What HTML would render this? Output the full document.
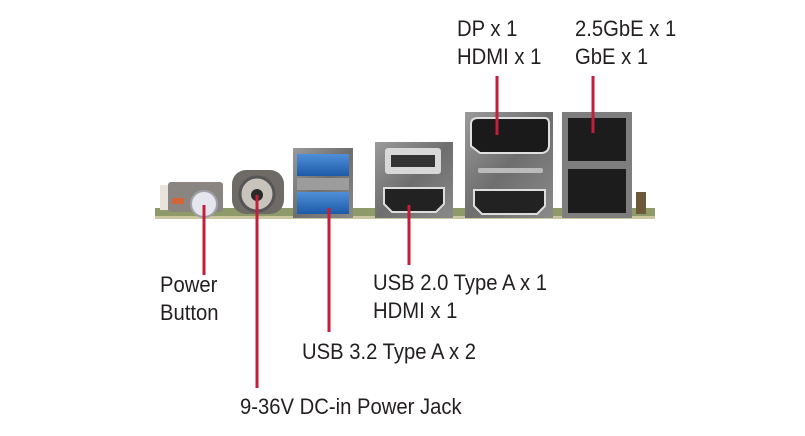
<!DOCTYPE html>
<html><head><style>
html,body{margin:0;padding:0;background:#fff;}
body{width:805px;height:436px;position:relative;overflow:hidden;}
.t{position:absolute;font-family:"Liberation Sans",sans-serif;font-size:22px;color:#231f20;white-space:nowrap;transform:scaleX(0.92);transform-origin:0 0;line-height:28px;}
</style></head><body>
<svg width="805" height="436" style="position:absolute;left:0;top:0">
<defs>
<linearGradient id="metal" x1="0" y1="0" x2="1" y2="1"><stop offset="0" stop-color="#9a9a9a"/><stop offset="0.5" stop-color="#6e6e6e"/><stop offset="1" stop-color="#8a8a8a"/></linearGradient>
<linearGradient id="blue" x1="0" y1="0" x2="0" y2="1"><stop offset="0" stop-color="#4f8fd8"/><stop offset="1" stop-color="#1d5aa8"/></linearGradient>
</defs>
<rect x="155" y="208" width="500" height="10" fill="#8f9a6a"/>
<rect x="155" y="216" width="500" height="3" fill="#c9c6a0"/>
<rect x="160" y="185" width="20" height="25" fill="#e8e4dc"/>
<rect x="168" y="182" width="55" height="30" fill="#8a8580" rx="3"/>
<rect x="172" y="198" width="12" height="6" fill="#d2663a"/>
<circle cx="204" cy="204" r="13" fill="#e6e6ee" stroke="#a0a0a8" stroke-width="2"/>
<rect x="232" y="170" width="52" height="44" rx="14" fill="#6e6a66"/>
<circle cx="257" cy="194" r="17" fill="#c8c4bc" stroke="#555" stroke-width="3"/>
<circle cx="257" cy="195" r="6" fill="#2a2a2a"/>
<rect x="293" y="148" width="60" height="70" fill="url(#metal)"/>
<rect x="297" y="154" width="52" height="22" fill="url(#blue)"/>
<rect x="297" y="178" width="52" height="12" fill="#9c9c9c"/>
<rect x="297" y="192" width="52" height="22" fill="url(#blue)"/>
<rect x="375" y="142" width="78" height="76" fill="url(#metal)"/>
<rect x="385" y="148" width="56" height="26" rx="3" fill="#d8d8d8"/>
<rect x="391" y="155" width="44" height="12" fill="#333"/>
<path d="M384 188 H444 V204 L436 212 H392 L384 204 Z" fill="#222" stroke="#ddd" stroke-width="2"/>
<rect x="465" y="112" width="88" height="106" fill="url(#metal)"/>
<path d="M471 124 Q471 118 478 118 H545 Q549 118 549 124 V145 Q549 152 542 153 H480 L471 146 Z" fill="#1a1a1a" stroke="#e0e0e0" stroke-width="2"/>
<rect x="478" y="168" width="65" height="5" rx="2" fill="#bbb"/>
<path d="M474 190 H545 V206 L537 214 H482 L474 206 Z" fill="#222" stroke="#ddd" stroke-width="2"/>
<rect x="562" y="112" width="70" height="106" fill="#7e7e7e"/>
<rect x="568" y="118" width="58" height="43" fill="#1c1c1c"/>
<rect x="568" y="169" width="58" height="44" fill="#1c1c1c"/>
<rect x="636" y="192" width="10" height="22" fill="#6a5a3a"/>
<g stroke="#c41e3a" stroke-width="3">
<line x1="204" y1="205" x2="204" y2="275"/>
<line x1="257" y1="195" x2="257" y2="388"/>
<line x1="329" y1="208" x2="329" y2="332"/>
<line x1="409" y1="205" x2="409" y2="265"/>
<line x1="497" y1="76" x2="497" y2="135"/>
<line x1="593" y1="76" x2="593" y2="133"/>
</g>
</svg>
<div class="t" style="left:457px;top:15px">DP x 1<br>HDMI x 1</div>
<div class="t" style="left:575px;top:15px">2.5GbE x 1<br>GbE x 1</div>
<div class="t" style="left:160px;top:271px">Power<br>Button</div>
<div class="t" style="left:373px;top:269px">USB 2.0 Type A x 1<br>HDMI x 1</div>
<div class="t" style="left:302px;top:338px">USB 3.2 Type A x 2</div>
<div class="t" style="left:240px;top:393px">9-36V DC-in Power Jack</div>
</body></html>
